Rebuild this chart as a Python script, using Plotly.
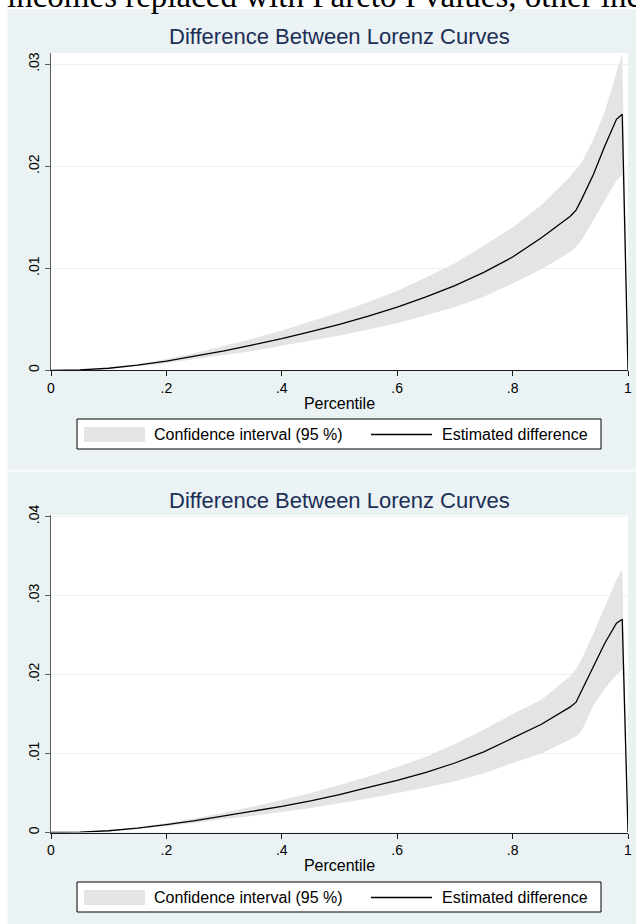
import plotly.graph_objects as go

# ---------------- data ----------------
percentile = [0, 0.05, 0.10, 0.15, 0.20, 0.25, 0.30, 0.35, 0.40, 0.45, 0.50, 0.55,
              0.60, 0.65, 0.70, 0.75, 0.80, 0.85, 0.90, 0.91, 0.92, 0.94, 0.96,
              0.98, 0.99, 1.00]

est_top = [0, 0.00005, 0.0002, 0.0005, 0.0009, 0.0014, 0.0019, 0.0025, 0.0031, 0.0038,
           0.0045, 0.0053, 0.0062, 0.0072, 0.0083, 0.0096, 0.0111, 0.0130, 0.0151,
           0.0157, 0.0168, 0.0192, 0.0220, 0.0246, 0.0251, 0]
hi_top = [0, 0.00006, 0.00025, 0.0006, 0.0011, 0.0017, 0.0024, 0.0031, 0.0039, 0.0048,
          0.0057, 0.0067, 0.0078, 0.0091, 0.0105, 0.0122, 0.0140, 0.0162, 0.0190,
          0.0197, 0.0204, 0.0226, 0.0254, 0.0292, 0.0310, 0]
lo_top = [0, 0.00004, 0.00015, 0.0004, 0.0007, 0.0011, 0.0015, 0.0019, 0.0024, 0.0029,
          0.0034, 0.0040, 0.0046, 0.0054, 0.0062, 0.0072, 0.0085, 0.0099, 0.0116,
          0.0121, 0.0128, 0.0147, 0.0167, 0.0186, 0.0192, 0]

est_bot = [0, 0.00005, 0.00022, 0.00055, 0.0010, 0.0015, 0.0021, 0.0027, 0.0033, 0.0040,
           0.0048, 0.0057, 0.0066, 0.0076, 0.0088, 0.0102, 0.0119, 0.0137, 0.0159,
           0.0165, 0.0180, 0.0211, 0.0240, 0.0265, 0.0270, 0]
hi_bot = [0, 0.00006, 0.00027, 0.00065, 0.0012, 0.0018, 0.0025, 0.0033, 0.0041, 0.0050,
          0.0060, 0.0071, 0.0083, 0.0096, 0.0112, 0.0130, 0.0150, 0.0168, 0.0198,
          0.0207, 0.0220, 0.0252, 0.0285, 0.0320, 0.0333, 0]
lo_bot = [0, 0.00004, 0.00017, 0.00045, 0.0008, 0.0012, 0.0017, 0.0021, 0.0026, 0.0031,
          0.0037, 0.0043, 0.0050, 0.0057, 0.0065, 0.0075, 0.0088, 0.0100, 0.0118,
          0.0122, 0.0129, 0.0161, 0.0182, 0.0200, 0.0206, 0]

x_tickvals = [0, 0.2, 0.4, 0.6, 0.8, 1.0]
x_ticktext = ["0", ".2", ".4", ".6", ".8", "1"]
y_tickvals_top = [0, 0.01, 0.02, 0.03]
y_ticktext_top = ["0", ".01", ".02", ".03"]
y_tickvals_bot = [0, 0.01, 0.02, 0.03, 0.04]
y_ticktext_bot = ["0", ".01", ".02", ".03", ".04"]

title_text = "Difference Between Lorenz Curves"
x_title = "Percentile"
legend_ci = "Confidence interval (95 %)"
legend_est = "Estimated difference"
doc_text = "incomes replaced with Pareto I values, other incomes"

# ---------------- layout constants (pixels) ----------------
W, H = 636, 924
BG = "#EAF2F3"
BAND = "#E4E4E4"
NAVY = "#1C2E55"
FONT = "Liberation Sans, Arial, sans-serif"


def px(x):
    return x / W


def py(y):
    return 1 - y / H


fig = go.Figure()

panels = [
    dict(est=est_top, lo=lo_top, hi=hi_top, xa="x", ya="y", off=0),
    dict(est=est_bot, lo=lo_bot, hi=hi_bot, xa="x2", ya="y2", off=463),
]

for pn in panels:
    fig.add_trace(go.Scatter(x=percentile, y=pn["lo"], mode="lines",
                             line=dict(width=0, color=BAND), xaxis=pn["xa"], yaxis=pn["ya"],
                             showlegend=False, hoverinfo="skip"))
    fig.add_trace(go.Scatter(x=percentile, y=pn["hi"], mode="lines", fill="tonexty",
                             fillcolor=BAND, line=dict(width=0, color=BAND),
                             xaxis=pn["xa"], yaxis=pn["ya"], showlegend=False,
                             name=legend_ci))
    fig.add_trace(go.Scatter(x=percentile, y=pn["est"], mode="lines",
                             line=dict(width=1.3, color="black"),
                             xaxis=pn["xa"], yaxis=pn["ya"], showlegend=False,
                             name=legend_est))

xdom = [px(51), px(628)]
axis_common_x = dict(
    domain=xdom, range=[0, 1], tickvals=x_tickvals, ticktext=x_ticktext,
    showline=True, linecolor="#1a1a1a", linewidth=1, ticks="outside", ticklen=5,
    tickcolor="#1a1a1a", showgrid=False, zeroline=False,
    tickfont=dict(family=FONT, size=14, color="black"),
    title=dict(text=x_title, font=dict(family=FONT, size=16, color="black"), standoff=2),
    automargin=False,
)
axis_common_y = dict(
    showline=True, linecolor="#5e5e5e", linewidth=1, ticks="outside", ticklen=5,
    tickcolor="#5e5e5e", showgrid=True, gridcolor=BG, gridwidth=1, zeroline=False,
    tickangle=-90, tickfont=dict(family=FONT, size=14, color="black"),
    automargin=False,
)

fig.update_layout(
    width=W, height=H,
    margin=dict(l=0, r=0, t=0, b=0),
    paper_bgcolor=BG, plot_bgcolor="white",
    xaxis=dict(**axis_common_x, anchor="y"),
    yaxis=dict(**axis_common_y, domain=[py(370.3), py(53)], range=[0, 0.0311],
               tickvals=y_tickvals_top, ticktext=y_ticktext_top, anchor="x"),
    xaxis2=dict(**axis_common_x, anchor="y2"),
    yaxis2=dict(**axis_common_y, domain=[py(832.5), py(515)], range=[0, 0.0402],
                tickvals=y_tickvals_bot, ticktext=y_ticktext_bot, anchor="x2"),
    showlegend=False,
)

shapes = [
    # white page strips around the two graph panels
    dict(type="rect", xref="paper", yref="paper", x0=0, x1=1, y0=py(9), y1=1,
         fillcolor="white", line=dict(width=0), layer="below"),
    dict(type="rect", xref="paper", yref="paper", x0=0, x1=px(7.5), y0=0, y1=1,
         fillcolor="white", line=dict(width=0), layer="below"),
    dict(type="rect", xref="paper", yref="paper", x0=0, x1=1, y0=py(471.6), y1=py(470.4),
         fillcolor="white", line=dict(width=0), layer="below"),
]
annotations = [
    dict(text=doc_text, xref="paper", yref="paper", x=px(5), y=py(16), xanchor="left",
         yanchor="bottom", showarrow=False,
         font=dict(family="Liberation Serif, Times New Roman, serif", size=33, color="black")),
]

for pn in panels:
    o = pn["off"]
    annotations.append(dict(text=title_text, xref="paper", yref="paper",
                            x=px(339.5), y=py(37 + o), xanchor="center", yanchor="middle",
                            showarrow=False, font=dict(family=FONT, size=22, color=NAVY)))
    # legend box
    shapes.append(dict(type="rect", xref="paper", yref="paper", x0=px(77), x1=px(601),
                       y0=py(449 + o), y1=py(419 + o), fillcolor="white",
                       line=dict(color="black", width=1), layer="above"))
    shapes.append(dict(type="rect", xref="paper", yref="paper", x0=px(84), x1=px(145),
                       y0=py(442 + o), y1=py(427 + o), fillcolor=BAND,
                       line=dict(width=0), layer="above"))
    shapes.append(dict(type="line", xref="paper", yref="paper", x0=px(371), x1=px(432),
                       y0=py(434.5 + o), y1=py(434.5 + o),
                       line=dict(color="black", width=1.3), layer="above"))
    annotations.append(dict(text=legend_ci, xref="paper", yref="paper", x=px(152),
                            y=py(434.5 + o), xanchor="left", yanchor="middle",
                            showarrow=False, font=dict(family=FONT, size=16, color="black")))
    annotations.append(dict(text=legend_est, xref="paper", yref="paper", x=px(440),
                            y=py(434.5 + o), xanchor="left", yanchor="middle",
                            showarrow=False, font=dict(family=FONT, size=16, color="black")))

fig.update_layout(shapes=shapes, annotations=annotations)

# remove the browser's default 8px body margin so the 636x924 figure fills the window
fig.write_html("out.html", config={"displayModeBar": False},
               post_script="document.body.style.margin='0px';document.body.style.overflow='hidden';")
